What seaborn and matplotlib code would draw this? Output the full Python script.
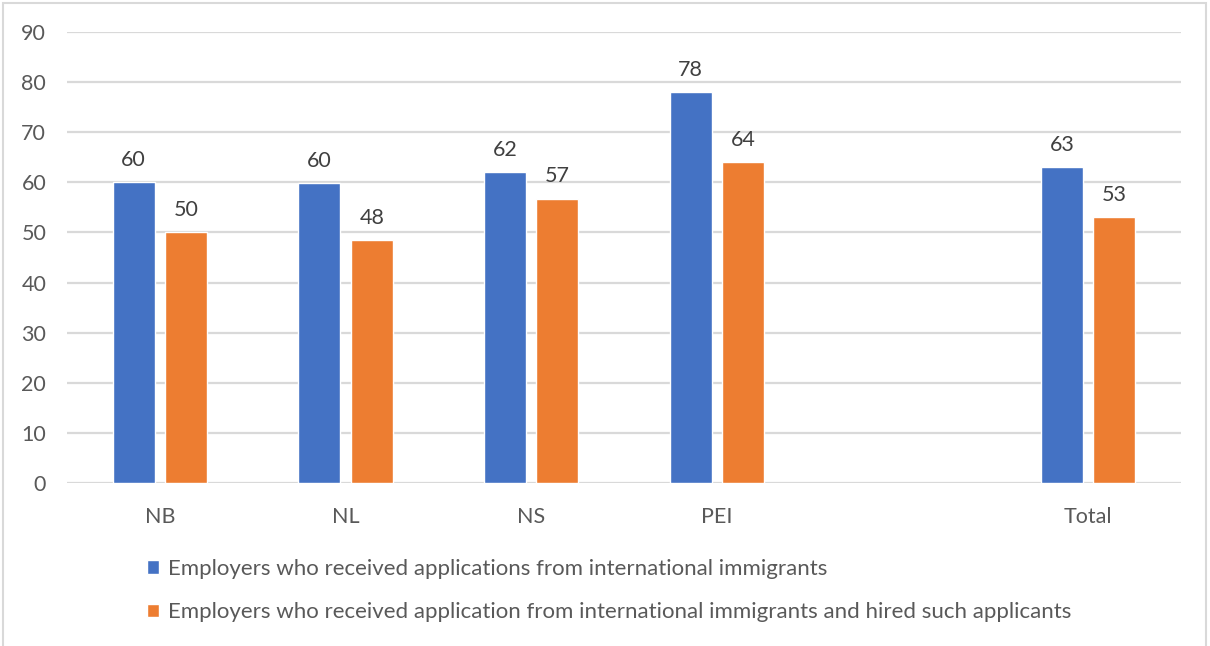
import matplotlib
matplotlib.use("Agg")
import matplotlib.pyplot as plt
import matplotlib.patches as mpatches
import seaborn as sns
import pandas as pd

# ---- data ----
categories = ["NB", "NL", "NS", "PEI", "Total"]
slot_order = ["NB", "NL", "NS", "PEI", " ", "Total"]
series_names = [
    "Employers who received applications from international immigrants",
    "Employers who received application from international immigrants and hired such applicants",
]
received = [60, 59.8, 62, 78, 63]
hired = [50, 48.4, 56.7, 64, 53]
y_ticks = [0, 10, 20, 30, 40, 50, 60, 70, 80, 90]
colors = ["#4472C4", "#ED7D31"]

df = pd.DataFrame({
    "Province": categories * 2,
    "Series": [series_names[0]] * len(categories) + [series_names[1]] * len(categories),
    "Value": received + hired,
})

sns.set_theme(style="white")
plt.rcParams["font.family"] = ["Lato", "DejaVu Sans"]

W, H = 1210, 646
fig = plt.figure(figsize=(W / 100, H / 100), dpi=100)
ax = fig.add_axes([67 / W, 1 - 483 / H, (1181 - 67) / W, (483 - 32) / H])

sns.barplot(data=df, x="Province", y="Value", hue="Series", order=slot_order,
            hue_order=series_names, palette=colors, width=0.566, gap=0.2,
            errorbar=None, ax=ax, saturation=1)

ax.set_xlim(-0.5, 5.5)
ax.set_ylim(0, 90)
ax.set_yticks(y_ticks)
ax.set_xlabel("")
ax.set_ylabel("")
ax.yaxis.grid(True, color="#d9d9d9", linewidth=1.6)
ax.set_axisbelow(True)
for s in ax.spines.values():
    s.set_visible(False)
ax.tick_params(axis="y", length=0, pad=15, labelsize=15.5, labelcolor="#595959")
ax.tick_params(axis="x", length=0, pad=17, labelsize=15.5, labelcolor="#595959")

for c in ax.containers:
    ax.bar_label(c, fmt="%.0f", padding=9, fontsize=15.5, color="#404040")

handles, labels = ax.get_legend_handles_labels()
if ax.get_legend() is not None:
    ax.get_legend().remove()
fig.legend(handles, labels, loc="upper left", bbox_to_anchor=(147 / W, 1 - 559 / H),
           frameon=False, fontsize=16, handlelength=0.55, handleheight=0.55,
           handletextpad=0.4, labelspacing=1.05, labelcolor="#595959",
           borderaxespad=0, borderpad=0)

fig.patches.append(mpatches.Rectangle((3 / W, -0.02), (1206 - 3) / W, 1.02 - 3 / H,
                                      transform=fig.transFigure, fill=False,
                                      edgecolor="#d9d9d9", linewidth=1.5))

fig.savefig("out.png", dpi=100)
